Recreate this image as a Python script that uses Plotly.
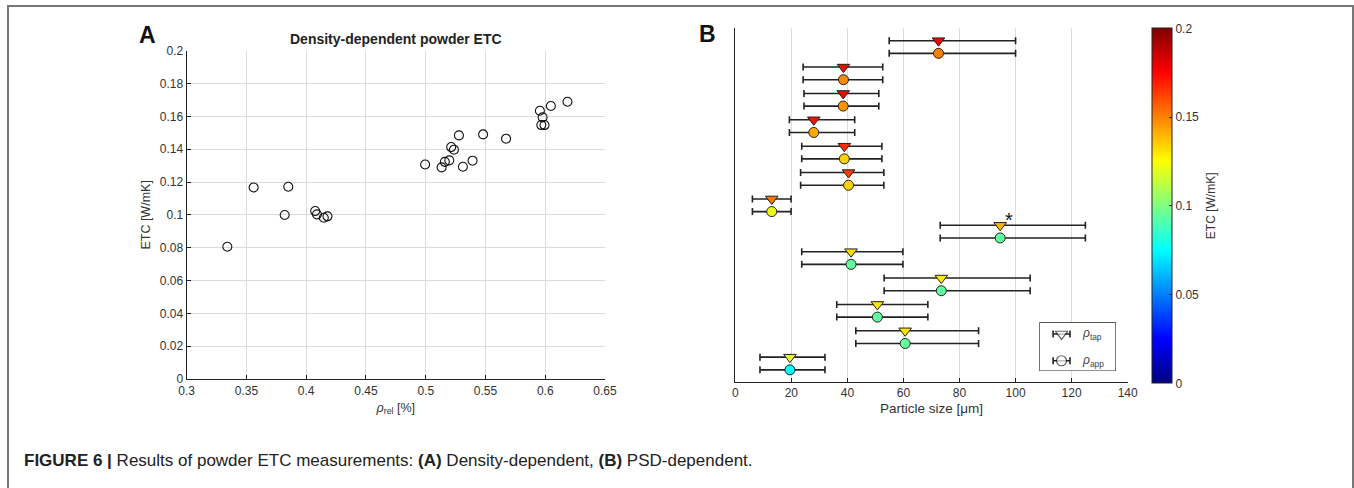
import plotly.graph_objects as go

W, H = 1354, 488

# ---------------- Panel A data ----------------
rho_rel = [0.334, 0.356, 0.385, 0.382, 0.4075, 0.409, 0.4147, 0.4178,
           0.4995, 0.5133, 0.516, 0.5197, 0.5213, 0.5236, 0.5278, 0.5311,
           0.5392, 0.548, 0.5672, 0.5955, 0.5978, 0.5967, 0.5994, 0.6047, 0.6186]
etc_rel = [0.0806, 0.1167, 0.1171, 0.0999, 0.1023, 0.1003, 0.0982, 0.0991,
           0.1307, 0.1289, 0.1323, 0.1332, 0.1413, 0.1397, 0.1484, 0.1293,
           0.1330, 0.1490, 0.1464, 0.1634, 0.1594, 0.1547, 0.1547, 0.1663, 0.1689]

# ---------------- Panel B data (bottom row first) ----------------
d50 = [19.5, 60.6, 50.7, 73.5, 41.3, 94.5, 13.0, 40.4, 38.9, 28.0, 38.5, 38.6, 72.5]
d10 = [8.8, 43.0, 36.2, 53.1, 23.7, 73.1, 6.1, 23.3, 23.7, 19.3, 24.5, 24.2, 54.9]
d90 = [32.0, 86.8, 68.7, 105.2, 59.8, 124.9, 19.9, 53.0, 52.3, 42.6, 51.2, 52.6, 100.0]
etc_tap = [0.120, 0.130, 0.130, 0.129, 0.132, 0.140, 0.152, 0.163, 0.166, 0.172, 0.175, 0.175, 0.177]
etc_app = [0.075, 0.094, 0.094, 0.094, 0.094, 0.094, 0.121, 0.134, 0.134, 0.142, 0.146, 0.148, 0.150]
rows = list(range(len(d50)))
tap_offset = 0.48
asterisk_row = 5

cb_ticks = [0, 0.05, 0.1, 0.15, 0.2]
legend_labels = ["<i>ρ</i><sub>tap</sub>", "<i>ρ</i><sub>app</sub>"]

jet = [[0, 'rgb(0,0,128)'], [0.125, 'rgb(0,0,255)'], [0.375, 'rgb(0,255,255)'],
       [0.625, 'rgb(255,255,0)'], [0.875, 'rgb(255,0,0)'], [1, 'rgb(128,0,0)']]

FONT = "Liberation Sans, Arial, sans-serif"


def px(x):
    return x / W


def py(y):
    return 1 - y / H


fig = go.Figure()

# Panel A scatter
fig.add_trace(go.Scatter(
    x=rho_rel, y=etc_rel, mode="markers", xaxis="x", yaxis="y", showlegend=False,
    marker=dict(symbol="circle-open", size=9, color="#111", line=dict(width=1.1, color="#111")),
))

err_minus = [m - a for m, a in zip(d50, d10)]
err_plus = [b - m for m, b in zip(d50, d90)]
err_style = dict(type="data", symmetric=False, array=err_plus, arrayminus=err_minus,
                 color="#222", thickness=1.6, width=3.5)

# Panel B: app (circles)
fig.add_trace(go.Scatter(
    x=d50, y=rows, mode="markers", xaxis="x2", yaxis="y2", showlegend=False,
    error_x=err_style,
    marker=dict(symbol="circle", size=10, color=etc_app, colorscale=jet, cmin=0, cmax=0.2,
                line=dict(width=1, color="#222")),
))
# Panel B: tap (triangles), carries colorbar
fig.add_trace(go.Scatter(
    x=d50, y=[r + tap_offset for r in rows], mode="markers", xaxis="x2", yaxis="y2",
    showlegend=False, error_x=err_style,
    marker=dict(symbol="triangle-down", size=11, color=etc_tap, colorscale=jet, cmin=0, cmax=0.2,
                line=dict(width=1, color="#222"),
                colorbar=dict(
                    x=px(1151.7), xanchor="left", xpad=0, thickness=20, thicknessmode="pixels",
                    y=py(205.8), yanchor="middle", len=355 / H, lenmode="fraction", ypad=0,
                    outlinecolor="#222", outlinewidth=1,
                    tickvals=cb_ticks, ticktext=[str(t) + "\u00a0\u00a0\u00a0" for t in cb_ticks],
                    ticks="inside", ticklen=3, tickcolor="#222",
                    tickfont=dict(size=12, color="#333", family=FONT),
                    title=dict(text="ETC [W/mK]", side="right", font=dict(size=12, color="#333", family=FONT)),
                )),
))

# Legend symbols on overlay axis
fig.add_trace(go.Scatter(
    x=[0.29, 0.29], y=[0.76, 0.21], mode="markers", xaxis="x3", yaxis="y3", showlegend=False,
    error_x=dict(type="constant", value=0.11, color="#222", thickness=1.6, width=3.5),
    marker=dict(symbol=["triangle-down", "circle"], size=[11, 10], color="white",
                line=dict(width=1.2, color="#222")),
))

axis_font = dict(size=12, color="#333", family=FONT)

fig.update_layout(
    width=W, height=H, margin=dict(l=0, r=0, t=0, b=0, autoexpand=False),
    paper_bgcolor="white", plot_bgcolor="white", font=dict(family=FONT, color="#333"),
    xaxis=dict(domain=[px(186.7), px(605)], range=[0.3, 0.65], dtick=0.05, tick0=0.3,
               showgrid=True, gridcolor="#dcdcdc", gridwidth=1, zeroline=False, automargin=False,
               showline=True, linecolor="#222", linewidth=1.2, ticks="inside", ticklen=4,
               tickcolor="#222", tickfont=axis_font, tickformat="~g", anchor="y",
               title=dict(text="<i>ρ</i><sub>rel</sub> [%]", font=dict(size=12.5, color="#333"), standoff=6)),
    yaxis=dict(domain=[py(379), py(50.7)], range=[0, 0.2], dtick=0.02, tick0=0,
               showgrid=True, gridcolor="#dcdcdc", gridwidth=1, zeroline=False, automargin=False,
               showline=True, linecolor="#222", linewidth=1.2, ticks="inside", ticklen=4,
               tickcolor="#222", tickfont=axis_font, tickformat="~g", anchor="x",
               title=dict(text="ETC [W/mK]", font=dict(size=12.5, color="#333"), standoff=6)),
    xaxis2=dict(domain=[px(735.3), px(1127.7)], range=[0, 140], dtick=20, tick0=0,
                showgrid=True, gridcolor="#dcdcdc", gridwidth=1, zeroline=False, automargin=False,
                showline=True, linecolor="#222", linewidth=1.2, ticks="inside", ticklen=4,
                tickcolor="#222", tickfont=axis_font, anchor="y2",
                title=dict(text="Particle size [μm]", font=dict(size=13.5, color="#333"), standoff=4)),
    yaxis2=dict(domain=[py(381.7), py(28.3)], range=[-0.45, 12.95], automargin=False,
                showgrid=False, zeroline=False, showticklabels=False, ticks="",
                showline=True, linecolor="#222", linewidth=1.2, anchor="x2"),
    xaxis3=dict(domain=[px(1039.3), px(1116)], range=[0, 1], visible=False, anchor="y3", automargin=False),
    yaxis3=dict(domain=[py(371), py(322.3)], range=[0, 1], visible=False, anchor="x3", automargin=False),
)

shapes = [
    # legend box
    dict(type="rect", xref="x3", yref="y3", x0=0, x1=1, y0=0, y1=1,
         fillcolor="white", line=dict(color="#222", width=1.2), layer="below"),
    # outer frame
    dict(type="path", xref="paper", yref="paper",
         path=f"M {px(8)},{py(500)} L {px(8)},{py(6)} L {px(1353)},{py(6)} L {px(1353)},{py(500)}",
         line=dict(color="#777", width=2)),
]
fig.update_layout(shapes=shapes)

annotations = [
    dict(text="<b>A</b>", x=px(147), y=py(35), xref="paper", yref="paper",
         showarrow=False, font=dict(size=23, color="#111", family=FONT), xanchor="center", yanchor="middle"),
    dict(text="<b>B</b>", x=px(707), y=py(34), xref="paper", yref="paper",
         showarrow=False, font=dict(size=23, color="#111", family=FONT), xanchor="center", yanchor="middle"),
    dict(text="<b>Density-dependent powder ETC</b>", x=px(396), y=py(38.5), xref="paper", yref="paper",
         showarrow=False, font=dict(size=14, color="#222", family=FONT), xanchor="center", yanchor="middle"),
    dict(text="*", x=97.8, y=asterisk_row + tap_offset + 0.2, xref="x2", yref="y2",
         showarrow=False, font=dict(size=20, color="#111", family=FONT), xanchor="center", yanchor="middle"),
    dict(text=legend_labels[0], x=0.53, y=0.76, xref="x3", yref="y3", showarrow=False,
         font=dict(size=12, color="#444", family=FONT), xanchor="left", yanchor="middle"),
    dict(text=legend_labels[1], x=0.53, y=0.21, xref="x3", yref="y3", showarrow=False,
         font=dict(size=12, color="#444", family=FONT), xanchor="left", yanchor="middle"),
    dict(text="<b>FIGURE 6 |</b> Results of powder ETC measurements: <b>(A)</b> Density-dependent, <b>(B)</b> PSD-dependent.",
         x=px(22), y=py(460), xref="paper", yref="paper", showarrow=False,
         font=dict(size=17, color="#222", family="Liberation Sans Narrow, Arial Narrow, Liberation Sans, sans-serif"),
         xanchor="left", yanchor="middle"),
]
fig.update_layout(annotations=annotations)

fig.write_html("out.html", config={"displayModeBar": False},
               post_script="document.body.style.margin='0px';document.body.style.overflow='hidden';")
